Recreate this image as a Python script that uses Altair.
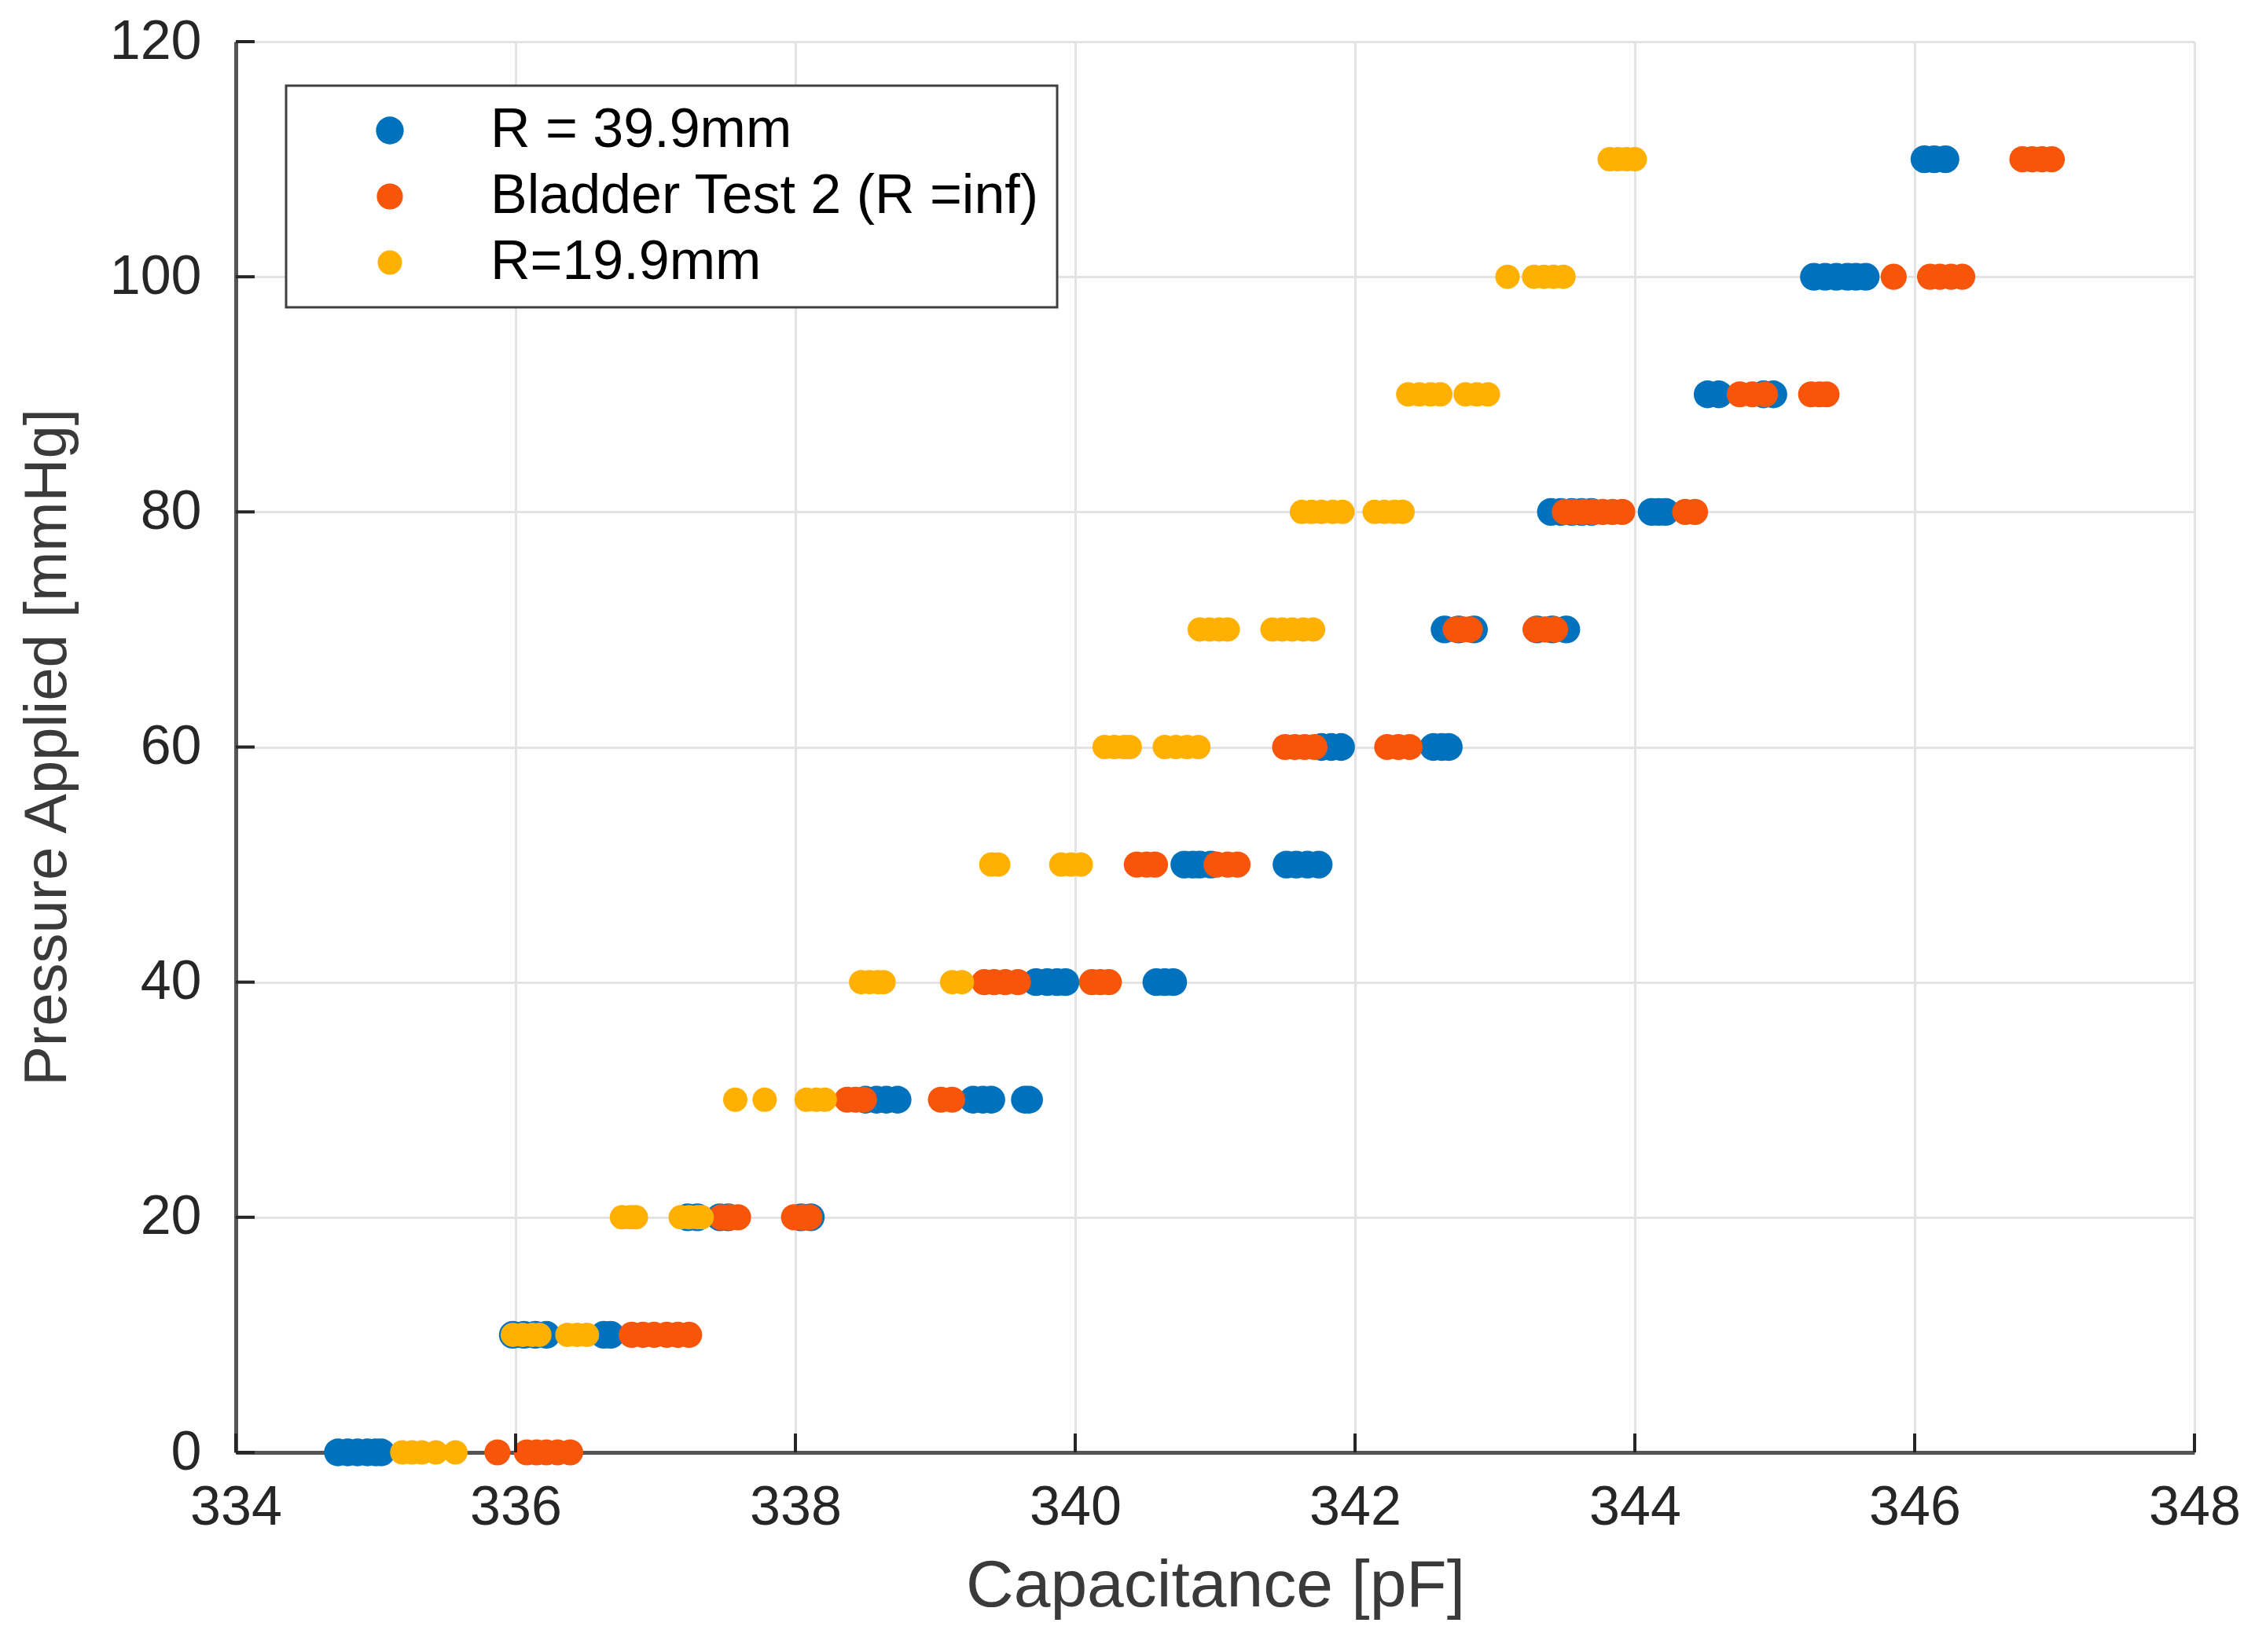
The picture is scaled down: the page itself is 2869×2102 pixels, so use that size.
import altair as alt
import pandas as pd

# ---------------- data ----------------
SERIES = ["R = 39.9mm", "Bladder Test 2 (R =inf)", "R=19.9mm"]
COLORS = ["#0072BD", "#F7560A", "#FFB000"]
SIZES = [1250, 960, 540]

X_TICKS = [334, 336, 338, 340, 342, 344, 346, 348]
Y_TICKS = [0, 20, 40, 60, 80, 100, 120]

BLUE_CAP = {
    0: [334.73, 334.8, 334.87, 334.94, 335.0, 335.04],
    10: [335.98, 336.06, 336.14, 336.22, 336.63, 336.68],
    20: [337.23, 337.3, 337.46, 337.52, 338.04, 338.11],
    30: [338.5, 338.58, 338.65, 338.73, 339.27, 339.34, 339.4, 339.64, 339.67],
    40: [339.72, 339.8, 339.87, 339.93, 340.58, 340.64, 340.7],
    50: [340.78, 340.84, 340.89, 340.97, 341.51, 341.58, 341.66, 341.74],
    60: [341.76, 341.83, 341.9, 342.56, 342.62, 342.67],
    70: [342.64, 342.74, 342.85, 343.3, 343.41, 343.51],
    80: [343.4, 343.47, 343.55, 343.62, 343.69, 344.12, 344.17, 344.22],
    90: [344.52, 344.6, 344.92, 344.99],
    100: [345.28, 345.36, 345.44, 345.52, 345.58, 345.65],
    110: [346.07, 346.14, 346.22],
}
ORANGE_CAP = {
    0: [335.87, 336.08, 336.15, 336.22, 336.3, 336.39],
    10: [336.83, 336.91, 336.99, 337.08, 337.16, 337.24],
    20: [337.47, 337.53, 337.59, 337.99, 338.05, 338.1],
    30: [338.37, 338.43, 338.49, 339.04, 339.12],
    40: [339.35, 339.42, 339.5, 339.59, 340.12, 340.18, 340.24],
    50: [340.44, 340.51, 340.57, 341.01, 341.09, 341.16],
    60: [341.5, 341.57, 341.64, 341.71, 342.23, 342.31, 342.39],
    70: [342.72, 342.77, 342.82, 343.29, 343.36, 343.43],
    80: [343.5, 343.56, 343.63, 343.7, 343.77, 343.84, 343.91, 344.36, 344.43],
    90: [344.75, 344.84, 344.93, 345.26, 345.32, 345.37],
    100: [345.85, 346.11, 346.18, 346.26, 346.34],
    110: [346.77, 346.84, 346.91, 346.98],
}
YELLOW_CAP = {
    0: [335.19, 335.26, 335.33, 335.43, 335.57],
    10: [335.98, 336.05, 336.12, 336.17, 336.37, 336.44, 336.51],
    20: [336.76, 336.82, 336.86, 337.18, 337.24, 337.3, 337.33],
    30: [337.57, 337.78, 338.08, 338.15, 338.21],
    40: [338.47, 338.53, 338.59, 338.63, 339.12, 339.19],
    50: [339.4, 339.45, 339.9, 339.97, 340.04],
    60: [340.21, 340.28, 340.35, 340.39, 340.64, 340.72, 340.8, 340.88],
    70: [340.89, 340.96, 341.03, 341.09, 341.41, 341.48, 341.55, 341.63, 341.7],
    80: [341.62, 341.69, 341.76, 341.84, 341.91, 342.14, 342.21, 342.28, 342.34],
    90: [342.38, 342.46, 342.54, 342.61, 342.79, 342.87, 342.95],
    100: [343.09, 343.28, 343.35, 343.42, 343.49],
    110: [343.82, 343.88, 343.94, 344.0],
}

# ---------------- build table ----------------
rows = []
for name, table in zip(SERIES, [BLUE_CAP, ORANGE_CAP, YELLOW_CAP]):
    for p, caps in table.items():
        for c in caps:
            rows.append({"series": name, "pressure": p, "cap": c})
df = pd.DataFrame(rows)
xt = pd.DataFrame({"cap": X_TICKS})
yt = pd.DataFrame({"pressure": Y_TICKS})

W, H = 2492, 1795
FONT = "Liberation Sans"

xscale = alt.Scale(domain=[334, 348], nice=False, zero=False)
yscale = alt.Scale(domain=[0, 120], nice=False, zero=False)

legend = alt.Legend(
    title=None, orient="none", legendX=64, legendY=56,
    padding=22, symbolOffset=75, labelOffset=93, rowPadding=14,
    labelFontSize=70, labelFont=FONT, labelColor="#000000", labelLimit=2000,
    fillColor="#FFFFFF", strokeColor="#404040",
    symbolType="circle", symbolStrokeWidth=0, symbolOpacity=1,
)

xaxis = alt.Axis(values=X_TICKS, title="Capacitance [pF]", format="d",
                 labelFontSize=70, titleFontSize=84, labelFlush=False,
                 labelPadding=36, titlePadding=24)
yaxis = alt.Axis(values=Y_TICKS, title="Pressure Applied [mmHg]", format="d",
                 labelFontSize=70, titleFontSize=76, labelFlush=False,
                 labelPadding=44, titlePadding=40)

points = alt.Chart(df).mark_circle(opacity=1, strokeWidth=0).encode(
    x=alt.X("cap:Q", scale=xscale, axis=xaxis),
    y=alt.Y("pressure:Q", scale=yscale, axis=yaxis),
    color=alt.Color("series:N", scale=alt.Scale(domain=SERIES, range=COLORS), legend=legend),
    size=alt.Size("series:N", scale=alt.Scale(domain=SERIES, range=SIZES), legend=legend),
)

xticks = alt.Chart(xt).mark_rule(color="#262626", strokeWidth=4).encode(
    x=alt.X("cap:Q", scale=xscale, axis=xaxis),
    y=alt.value(H), y2=alt.value(H - 24),
)
yticks = alt.Chart(yt).mark_rule(color="#262626", strokeWidth=4).encode(
    y=alt.Y("pressure:Q", scale=yscale, axis=yaxis),
    x=alt.value(0), x2=alt.value(24),
)

chart = alt.layer(points, xticks, yticks).properties(
    width=W, height=H,
    padding={"left": 14, "top": 10, "right": 0, "bottom": 5},
    background="#FFFFFF",
).configure_axis(
    labelFont=FONT, titleFont=FONT,
    labelColor="#262626", titleColor="#3A3A3A",
    titleFontWeight="normal",
    gridColor="#E3E3E3", gridWidth=3,
    domainColor="#555555", domainWidth=5,
    ticks=False, tickSize=0,
).configure_legend(
    strokeWidth=3,
).configure_view(
    stroke=None,
)

chart.save("out.html", embed_options={"renderer": "svg", "actions": False})
